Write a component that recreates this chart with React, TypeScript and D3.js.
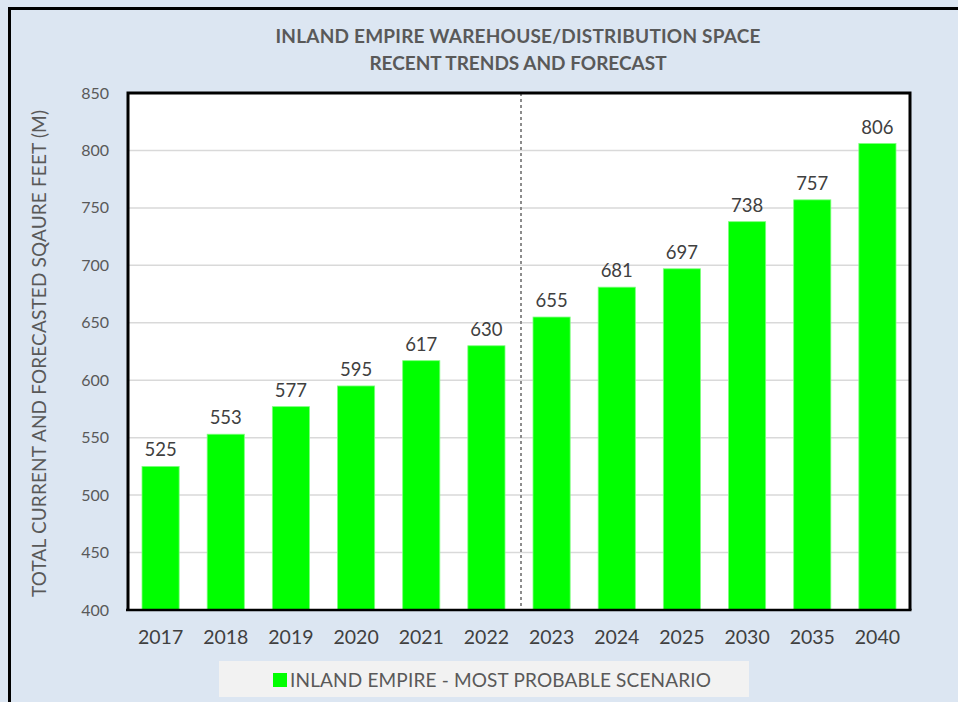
import React from "react";
import * as d3 from "d3";

// chart values
const years = ["2017", "2018", "2019", "2020", "2021", "2022", "2023", "2024", "2025", "2030", "2035", "2040"];
const space = [525, 553, 577, 595, 617, 630, 655, 681, 697, 738, 757, 806];
const yTicks = [400, 450, 500, 550, 600, 650, 700, 750, 800, 850];
const forecastStart = "2023";

const titleLines = ["INLAND EMPIRE WAREHOUSE/DISTRIBUTION SPACE", "RECENT TRENDS AND FORECAST"];
const yTitle = "TOTAL CURRENT AND FORECASTED SQAURE FEET (M)";
const legendLabel = "INLAND EMPIRE - MOST PROBABLE SCENARIO";

const App = () => {
	const width = 958;
	const height = 702;
	const plot = { left: 128, right: 910, top: 93, bottom: 610 };
	const font = "Lato, 'Open Sans', sans-serif";
	const textColor = "#595959";
	const green = "#00ff00";

	const xScale = d3
		.scaleBand()
		.domain(years)
		.range([plot.left, plot.right])
		.paddingInner(0.43)
		.paddingOuter(0.215);
	const yScale = d3.scaleLinear().domain([400, 850]).range([plot.bottom, plot.top]);

	const splitX = (xScale(forecastStart) ?? 0) - (xScale.step() * xScale.paddingInner()) / 2 + 2;

	return (
		<svg
			width={width}
			height={height}
			style={{ display: "block", position: "absolute", left: 0, top: 0 }}
		>
			<rect x={0} y={0} width={width} height={height} fill="#dce6f2" />
			{/* outer frame, cut off at right and bottom */}
			<path d={`M9.5,${height} V8.5 H${width}`} fill="none" stroke="#000" strokeWidth={3} />

			{titleLines.map((t, i) => (
				<text
					key={t}
					x={518}
					y={43 + i * 27}
					textAnchor="middle"
					fontFamily={font}
					fontWeight="bold"
					fontSize={19}
					fill={textColor}
					textLength={i === 0 ? 485 : undefined}
				>
					{t}
				</text>
			))}

			<rect
				x={plot.left}
				y={plot.top}
				width={plot.right - plot.left}
				height={plot.bottom - plot.top}
				fill="#fff"
			/>
			{yTicks.slice(1, -1).map((t) => (
				<line
					key={t}
					x1={plot.left}
					x2={plot.right}
					y1={yScale(t)}
					y2={yScale(t)}
					stroke="#d9d9d9"
					strokeWidth={1.5}
				/>
			))}

			<line
				x1={splitX}
				x2={splitX}
				y1={plot.top}
				y2={plot.bottom}
				stroke="#8c8c8c"
				strokeWidth={2}
				strokeDasharray="3,3"
			/>

			{years.map((yr, i) => {
				const v = space[i];
				const x = xScale(yr) ?? 0;
				const bw = xScale.bandwidth();
				return (
					<g key={yr}>
						<rect
							x={x}
							y={yScale(v)}
							width={bw}
							height={yScale(400) - yScale(v)}
							fill={green}
							stroke="#7dff7d"
							strokeWidth={0.8}
						/>
						<text
							x={x + bw / 2}
							y={yScale(v) - 10}
							textAnchor="middle"
							fontFamily={font}
							fontSize={18.5}
							fill="#404040"
						>
							{v}
						</text>
						<text
							x={x + bw / 2}
							y={644}
							textAnchor="middle"
							fontFamily={font}
							fontSize={19.5}
							fill="#404040"
						>
							{yr}
						</text>
					</g>
				);
			})}

			{/* plot frame: thick on left, top, right, axis line at bottom */}
			<path
				d={`M${plot.left},${plot.bottom} V${plot.top} H${plot.right} V${plot.bottom}`}
				fill="none"
				stroke="#000"
				strokeWidth={3}
			/>
			<line
				x1={plot.left - 2}
				x2={plot.right + 1.5}
				y1={plot.bottom}
				y2={plot.bottom}
				stroke="#000"
				strokeWidth={2.5}
			/>

			{yTicks.map((t) => (
				<text
					key={t}
					x={109}
					y={yScale(t) + 5.5}
					textAnchor="end"
					fontFamily={font}
					fontSize={16}
					fill={textColor}
				>
					{t}
				</text>
			))}

			<text
				transform={`translate(46,${(110 + 597) / 2}) rotate(-90)`}
				textAnchor="middle"
				fontFamily={font}
				fontSize={19}
				fill={textColor}
				textLength={487}
			>
				{yTitle}
			</text>

			<rect x={219} y={661} width={530} height={36} fill="#f2f2f2" />
			<rect x={273} y={673} width={14} height={14} fill={green} />
			<text x={290} y={687} fontFamily={font} fontSize={19} fill={textColor} textLength={421}>
				{legendLabel}
			</text>
		</svg>
	);
};

export default App;
